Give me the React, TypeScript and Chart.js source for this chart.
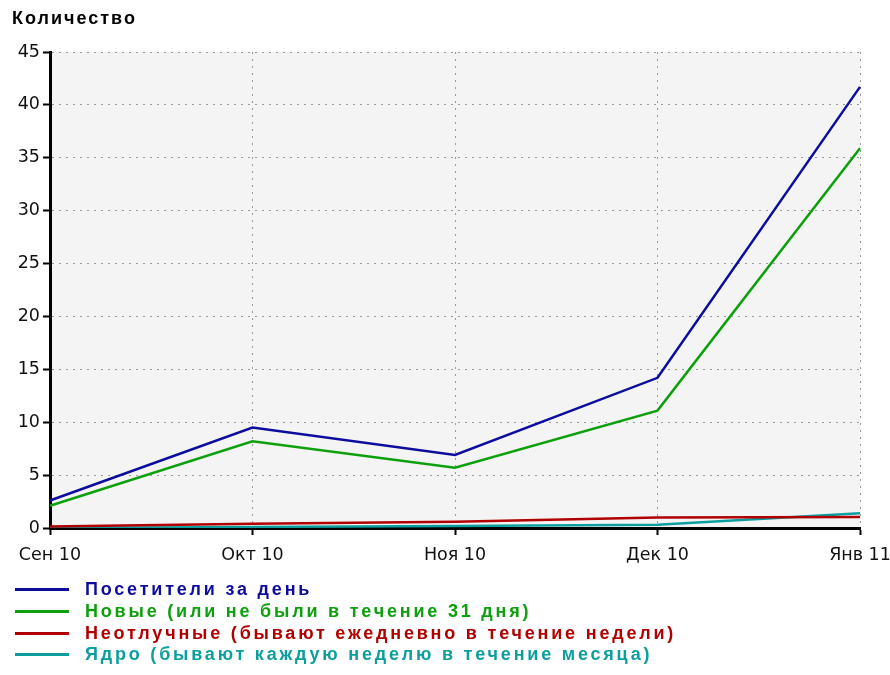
import { useEffect, useRef } from "react";
import { Chart, registerables } from "chart.js";

Chart.register(...registerables);

const months = ["Сен 10", "Окт 10", "Ноя 10", "Дек 10", "Янв 11"];
const visitors = [2.6, 9.5, 6.9, 14.2, 41.7];
const newVisitors = [2.1, 8.2, 5.7, 11.1, 35.9];
const regulars = [0.15, 0.4, 0.6, 1.0, 1.05];
const core = [0.0, 0.1, 0.2, 0.3, 1.4];

const seriesLabels = [
  "Посетители за день",
  "Новые (или не были в течение 31 дня)",
  "Неотлучные (бывают ежедневно в течение недели)",
  "Ядро (бывают каждую неделю в течение месяца)",
];
const seriesColors = ["#0c0c9e", "#0ca00c", "#b00000", "#0c9e9e"];
const seriesData = [visitors, newVisitors, regulars, core];
const yMax = 45;
const yStep = 5;
const titleText = "Количество";

const FONT = "'Liberation Sans', Arial, sans-serif";
const TICK_FONT = "'DejaVu Sans', sans-serif";

const bgPlugin = {
  id: "plotBg",
  beforeDraw(chart: any) {
    const { ctx, chartArea } = chart;
    if (!chartArea) return;
    ctx.save();
    ctx.fillStyle = "#f4f4f4";
    ctx.fillRect(chartArea.left, chartArea.top, chartArea.right - chartArea.left, chartArea.bottom - chartArea.top);
    ctx.restore();
  },
};

const titlePlugin = {
  id: "spacedTitle",
  afterDraw(chart: any) {
    const { ctx } = chart;
    ctx.save();
    ctx.font = `bold 18px ${FONT}`;
    (ctx as any).letterSpacing = "2px";
    ctx.fillStyle = "#000";
    ctx.textAlign = "left";
    ctx.textBaseline = "middle";
    ctx.fillText(titleText, 12, 19);
    ctx.restore();
  },
};

export default function App() {
  const ref = useRef<HTMLCanvasElement | null>(null);

  useEffect(() => {
    if (!ref.current) return;
    const chart = new Chart(ref.current, {
      type: "line",
      data: {
        labels: months,
        datasets: seriesData.map((d, i) => ({
          label: seriesLabels[i],
          data: d,
          borderColor: seriesColors[i],
          backgroundColor: seriesColors[i],
          borderWidth: 2.5,
          pointRadius: 0,
          tension: 0,
          fill: false,
        })),
      },
      options: {
        animation: false,
        responsive: false,
        devicePixelRatio: 1,
        layout: { padding: { left: 10, right: 0, top: 52, bottom: 99 } },
        plugins: {
          legend: { display: false },
          tooltip: { enabled: false },
          title: { display: false },
        },
        scales: {
          x: {
            type: "category",
            offset: false,
            grid: {
              color: "#9a9a9a",
              lineWidth: 1,
              tickLength: 7,
              tickWidth: 2,
              tickColor: "#000",
            },
            border: { display: true, color: "#000", width: 3, dash: [2, 5] },
            ticks: {
              color: "#111",
              font: { family: TICK_FONT, size: 17.5 },
              padding: 10,
              maxRotation: 0,
              autoSkip: false,
            },
            afterFit: (scale: any) => {
              scale.paddingRight = 30;
            },
          },
          y: {
            min: 0,
            max: yMax,
            grid: {
              color: "#9a9a9a",
              lineWidth: 1,
              tickLength: 7,
              tickWidth: 2,
              tickColor: "#000",
            },
            border: { display: true, color: "#000", width: 3, dash: [2, 5] },
            ticks: {
              stepSize: yStep,
              color: "#111",
              font: { family: TICK_FONT, size: 17.5 },
              padding: 3,
            },
            afterFit: (scale: any) => {
              scale.width = 40;
            },
          },
        },
      },
      plugins: [bgPlugin, titlePlugin],
    });
    return () => chart.destroy();
  }, []);

  return (
    <div style={{ position: "fixed", left: 0, top: 0, width: 890, height: 675, background: "#fff" }}>
      <canvas ref={ref} width={890} height={675} style={{ display: "block" }} />
      <div style={{ position: "absolute", left: 15, top: 579 }}>
        {seriesLabels.map((l, i) => (
          <div key={l} style={{ display: "flex", alignItems: "center", height: 21.7 }}>
            <div style={{ width: 54, height: 3, background: seriesColors[i], marginRight: 16 }} />
            <span
              style={{
                fontFamily: FONT,
                fontWeight: "bold",
                fontSize: 18,
                letterSpacing: 2.8,
                color: seriesColors[i],
                lineHeight: "21px",
                whiteSpace: "nowrap",
              }}
            >
              {l}
            </span>
          </div>
        ))}
      </div>
    </div>
  );
}
